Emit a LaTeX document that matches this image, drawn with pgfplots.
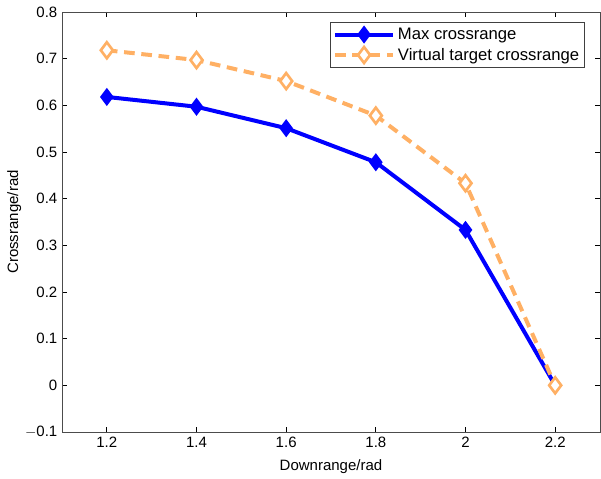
\documentclass[border=0pt]{standalone}
\usepackage{pgfplots}
\pgfplotsset{compat=1.18}
\usepackage{fontspec}
\setmainfont{Liberation Sans}
\definecolor{maxblue}{RGB}{0,0,255}
\definecolor{virtorange}{RGB}{255,176,100}
\begin{document}
\begin{tikzpicture}
\begin{axis}[
    scale only axis,
    width=403.5pt, height=315pt,
    xmin=1.1, xmax=2.3,
    ymin=-0.1, ymax=0.8,
    xtick={1.2,1.4,1.6,1.8,2.0,2.2},
    ytick={-0.1,0,0.1,0.2,0.3,0.4,0.5,0.6,0.7,0.8},
    xticklabels={1.2,1.4,1.6,1.8,2,2.2},
    yticklabels={$-$0.1,0,0.1,0.2,0.3,0.4,0.5,0.6,0.7,0.8},
    tick align=inside,
    major tick length=4pt,
    tick style={black, semithick},
    axis line style={black!70, semithick},
    /pgf/number format/assume math mode=true,
    font=\fontsize{11.25}{13}\selectfont,
    xlabel={Downrange/rad},
    ylabel={Crossrange/rad},
    xlabel style={yshift=-2pt},
    ylabel style={yshift=-4pt},
    legend style={at={(rel axis cs:0.972,0.976)}, anchor=north east,
        draw=black!75, semithick, font=\fontsize{12.5}{15}\selectfont,
        inner xsep=2pt, inner ysep=2pt, row sep=1pt},
    legend cell align=left,
    legend image code/.code={
        \draw[mark repeat=2, mark phase=2, #1]
            plot coordinates {(0cm,0cm) (0.77cm,0cm) (1.54cm,0cm)};
    },
]
\addplot[maxblue, line width=3pt, mark=diamond*, mark size=6pt,
    mark options={solid, fill=maxblue, line width=1pt}]
    coordinates {(1.2,0.618) (1.4,0.597) (1.6,0.551) (1.8,0.478) (2.0,0.333) (2.2,0.0)};
\addlegendentry{Max crossrange}
\addplot[virtorange, line width=3pt, dash pattern=on 8pt off 5pt, mark=diamond*, mark size=6pt,
    mark options={solid, fill=white, line width=2pt}]
    coordinates {(1.2,0.718) (1.4,0.697) (1.6,0.652) (1.8,0.578) (2.0,0.433) (2.2,0.0)};
\addlegendentry{Virtual target crossrange}
\end{axis}
\useasboundingbox ([xshift=-46.5pt,yshift=-35.25pt]current axis.south west) rectangle ([xshift=0.75pt,yshift=9pt]current axis.north east);
\end{tikzpicture}
\end{document}
